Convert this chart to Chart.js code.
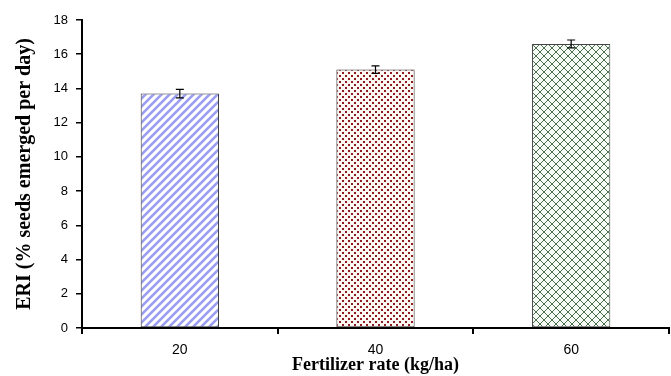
<!DOCTYPE html>
<html><head><meta charset="utf-8">
<script src="https://cdn.jsdelivr.net/npm/chart.js@4/dist/chart.umd.min.js"></script>
<style>html,body{margin:0;padding:0;background:#fff}#wrap{width:671px;height:376px}</style>
</head><body><div id="wrap"><canvas id="c" width="671" height="376"></canvas></div>
<script>
const categories = ["20", "40", "60"];
const eriValues = [13.7, 15.1, 16.6];
const eriErrors = [0.25, 0.22, 0.23];
const yTicks = [0, 2, 4, 6, 8, 10, 12, 14, 16, 18];

function makePattern(kind) {
  const c = document.createElement('canvas');
  const ctx = c.getContext('2d');
  if (kind === 'stripes') {
    c.width = 8; c.height = 8;
    ctx.fillStyle = '#fff'; ctx.fillRect(0,0,8,8);
    ctx.strokeStyle = '#9a9cf2'; ctx.lineWidth = 2.6;
    for (let k = -1; k <= 1; k++) {
      ctx.beginPath(); ctx.moveTo(k*8 - 1, 9); ctx.lineTo(k*8 + 9, -1); ctx.stroke();
    }
  } else if (kind === 'dots') {
    c.width = 6; c.height = 6;
    ctx.fillStyle = '#fbf7f2'; ctx.fillRect(0,0,6,6);
    ctx.fillStyle = '#8e1a22';
    ctx.fillRect(0,0,2,2); ctx.fillRect(3,3,2,2);
  } else {
    c.width = 8; c.height = 8;
    ctx.fillStyle = '#f6faf4'; ctx.fillRect(0,0,8,8);
    ctx.strokeStyle = '#4d7050'; ctx.lineWidth = 1;
    for (let k = -1; k <= 1; k++) {
      ctx.beginPath(); ctx.moveTo(k*8, 0); ctx.lineTo(k*8 + 8, 8); ctx.stroke();
      ctx.beginPath(); ctx.moveTo(k*8, 8); ctx.lineTo(k*8 + 8, 0); ctx.stroke();
    }
  }
  return document.getElementById('c').getContext('2d').createPattern(c, 'repeat');
}

const errorBars = {
  id: 'errorBars',
  afterDatasetsDraw(chart) {
    const ctx = chart.ctx;
    const meta = chart.getDatasetMeta(0);
    const ys = chart.scales.y;
    ctx.save();
    ctx.strokeStyle = '#000'; ctx.lineWidth = 1.2;
    meta.data.forEach((bar, i) => {
      const x = bar.x;
      const top = ys.getPixelForValue(eriValues[i] + eriErrors[i]);
      const bot = ys.getPixelForValue(eriValues[i] - eriErrors[i]);
      ctx.beginPath();
      ctx.moveTo(x, top); ctx.lineTo(x, bot);
      ctx.moveTo(x - 4, top); ctx.lineTo(x + 4, top);
      ctx.moveTo(x - 4, bot); ctx.lineTo(x + 4, bot);
      ctx.stroke();
    });
    ctx.restore();
  }
};

new Chart(document.getElementById('c'), {
  type: 'bar',
  data: {
    labels: categories,
    datasets: [{
      data: eriValues,
      backgroundColor: [makePattern('stripes'), makePattern('dots'), makePattern('cross')],
      borderColor: ['#333', '#333', '#444'],
      borderWidth: 1,
      borderSkipped: false,
      barPercentage: 0.8,
      categoryPercentage: 0.5
    }]
  },
  options: {
    responsive: false,
    animation: false,
    layout: { padding: { left: 0, right: 2, top: 20, bottom: 0 } },
    plugins: { legend: { display: false }, tooltip: { enabled: false } },
    scales: {
      x: {
        offset: true,
        grid: { offset: true, drawOnChartArea: false, tickLength: 6, color: '#000', lineWidth: 2 },
        border: { color: '#000', width: 2 },
        ticks: { color: '#000', padding: 8, font: { family: 'Liberation Sans', size: 14 } },
        title: { display: true, text: 'Fertilizer rate (kg/ha)', color: '#000', padding: { top: 0, bottom: 0 },
                 font: { family: 'Liberation Serif', size: 18, weight: 'bold' } },
        afterFit(s) { s.height = 48; }
      },
      y: {
        min: 0, max: 18,
        afterBuildTicks(s) { s.ticks = yTicks.map(v => ({ value: v })); },
        grid: { drawOnChartArea: false, tickLength: 6, color: '#000', lineWidth: 1.5 },
        border: { color: '#000', width: 2 },
        ticks: { color: '#000', padding: 8, font: { family: 'Liberation Sans', size: 13 } },
        title: { display: true, text: 'ERI (% seeds emerged per day)', color: '#000', padding: { top: 13, bottom: 0 },
                 font: { family: 'Liberation Serif', size: 20, weight: 'bold' } },
        afterFit(s) { s.width = 82; }
      }
    }
  },
  plugins: [errorBars]
});
</script>
</body></html>
